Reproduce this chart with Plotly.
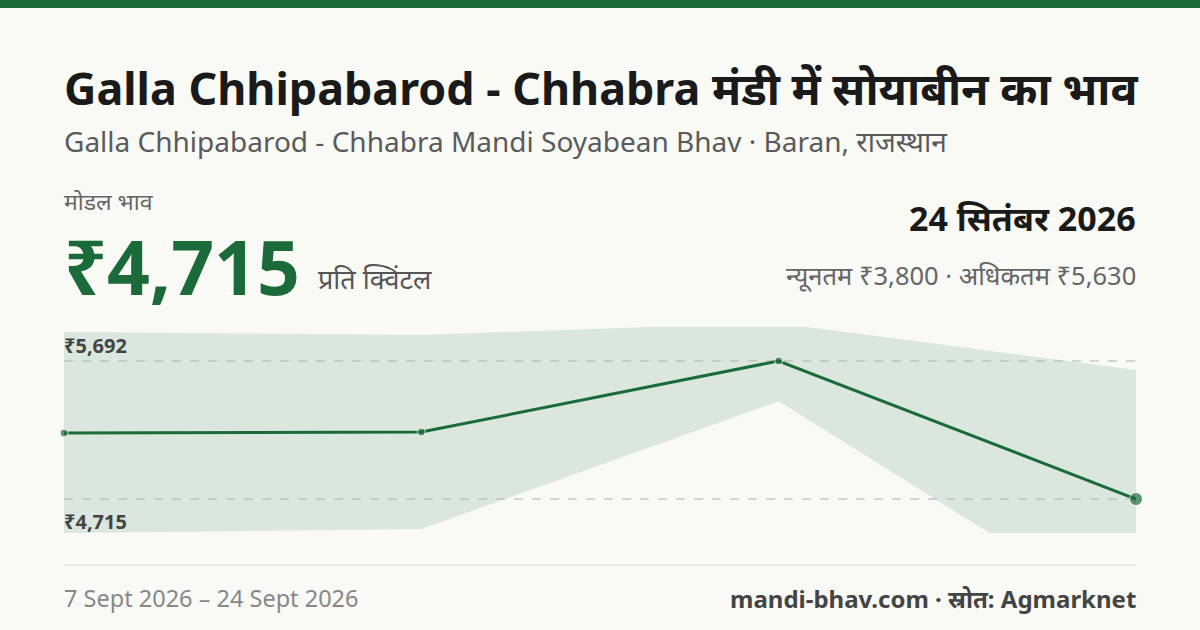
import plotly.graph_objects as go

x_idx = [0, 1, 2, 3]
dates = ["7 Sept 2026", "", "", "24 Sept 2026"]
modal = [5182, 5189, 5692, 4715]
band_up_x = [0, 1, 1.64, 2.08, 3]
band_up_y = [5897, 5876, 5933, 5933, 5628]
band_lo_x = [0, 1, 2, 2.59, 3]
band_lo_y = [4474, 4503, 5407, 4474, 4474]
ref_hi, ref_lo = 5692, 4715

GREEN = "#1b6b3a"
F = "Noto Sans"
W, H = 1200, 630
L, R, T, B = 64, 1136, 320, 540

fig = go.Figure()
fig.add_trace(go.Scatter(x=band_up_x + band_lo_x[::-1], y=band_up_y + band_lo_y[::-1],
                         fill="toself", fillcolor="rgba(27,107,58,0.13)", line=dict(width=0),
                         mode="lines", hoverinfo="skip"))
for v in (ref_hi, ref_lo):
    fig.add_trace(go.Scatter(x=[0, 3], y=[v, v], mode="lines",
                             line=dict(color="#b0b0b0", width=1, dash="dash"), hoverinfo="skip"))
fig.add_trace(go.Scatter(x=x_idx, y=modal, mode="lines+markers", cliponaxis=False,
                         line=dict(color=GREEN, width=3),
                         marker=dict(color=GREEN, size=[8, 8, 8, 13])))

def px(x): return (x - L) / (R - L)
def py(y): return (B - y) / (B - T)

ann = []
def t(x, y, s, size, color, bold=False, xa="left", ya="middle"):
    ann.append(dict(x=px(x), y=py(y), xref="paper", yref="paper", text=f"<b>{s}</b>" if bold else s,
                    showarrow=False, xanchor=xa, yanchor=ya, xshift=-2 if xa == "left" else 2,
                    font=dict(family=F, size=size, color=color)))

t(64, 88, "Galla Chhipabarod - Chhabra मंडी में सोयाबीन का भाव", 44.8, "#1a1a1a", True)
t(64, 141, "Galla Chhipabarod - Chhabra Mandi Soyabean Bhav · Baran, राजस्थान", 28, "#5a5a5a")
t(64, 201, "मोडल भाव", 23, "#666")
t(64, 266, "₹4,715", 75, GREEN, True)
t(318, 278, "प्रति क्विंटल", 27, "#555")
t(1136, 218, "24 सितंबर 2026", 34, "#1a1a1a", True, "right")
t(1136, 275, "न्यूनतम ₹3,800 · अधिकतम ₹5,630", 25.5, "#666", False, "right")
t(64, 345, f"₹{ref_hi:,}", 20, "#444", True)
t(64, 521, f"₹{ref_lo:,}", 20, "#444", True)
t(64, 598, f"{dates[0]} – {dates[-1]}", 23.5, "#888")
t(1136, 598, "mandi-bhav.com · स्रोत: Agmarknet", 24, "#444", True, "right")

shapes = [
    dict(type="rect", xref="paper", yref="paper", x0=px(0), x1=px(W), y0=py(0), y1=py(8),
         fillcolor=GREEN, line=dict(width=0)),
    dict(type="line", xref="paper", yref="paper", x0=0, x1=1, y0=py(565), y1=py(565),
         line=dict(color="#e0e0dc", width=1.5)),
]

fig.update_layout(width=W, height=H, margin=dict(l=L, r=W - R, t=T, b=H - B),
                  paper_bgcolor="#f9faf6", plot_bgcolor="rgba(0,0,0,0)", showlegend=False,
                  xaxis=dict(range=[0, 3], visible=False, fixedrange=True),
                  yaxis=dict(range=[4425, 5982], visible=False, fixedrange=True),
                  annotations=ann, shapes=shapes)
fig.write_html("out.html", config={"displayModeBar": False},
               post_script="document.body.style.margin='0';document.body.style.overflow='hidden';")
